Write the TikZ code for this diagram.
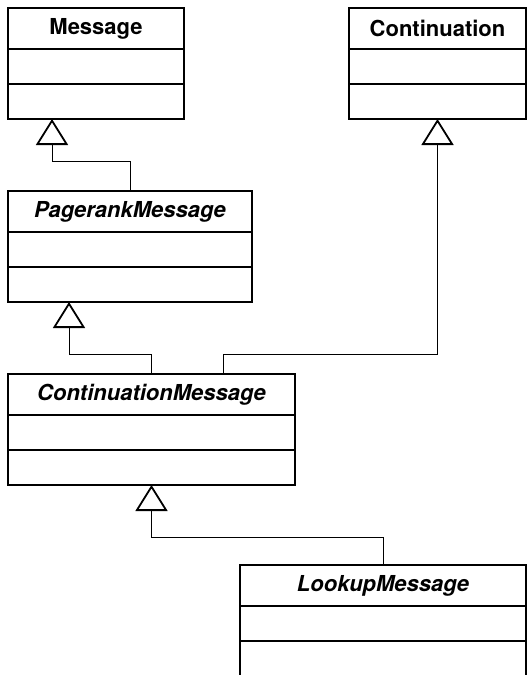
\documentclass[tikz,border=0pt]{standalone}
\usepackage{fontspec}
\setsansfont{TeX Gyre Heros}
\usetikzlibrary{arrows.meta,calc}

\begin{document}
\begin{tikzpicture}[x=1pt, y=-1pt, line join=miter,
  compart/.style={draw, line width=1.8pt, inner sep=0pt, outer sep=0pt, minimum height=35pt},
  classtitle/.style={compart, minimum height=41pt, font=\sffamily\bfseries\fontsize{22}{26}\selectfont},
  extends/.style={line width=1pt, -{Triangle[open, length=26pt, width=32pt, line width=1.8pt]}}]

\useasboundingbox (0,0) rectangle (527,675);

% --- Class boxes: name / left / top / width / shape / label ---
\foreach \name/\x/\y/\w/\shp/\txt in {
    msg/8/8/176/\upshape/Message,
    cnt/349/8/177/\upshape/Continuation,
    pm/8/191/244/\itshape/PagerankMessage,
    cm/8/374/287/\itshape/ContinuationMessage,
    lm/240/565/286/\itshape/LookupMessage}{
  \node[classtitle, minimum width=\w pt, anchor=north west] (\name) at (\x,\y) {\shp\txt};
  \node[compart, minimum width=\w pt, anchor=north] (\name-a) at (\name.south) {};   % attributes
  \node[compart, minimum width=\w pt, anchor=north] (\name-o) at (\name-a.south) {}; % operations
}

% --- Generalisations (child -> parent) ---
\draw[extends] (pm.north) -- ++(0,-30) -| ($(msg-o.south west)!0.25!(msg-o.south east)$);
\draw[extends] (cm.north) -- ++(0,-20) -| ($(pm-o.south west)!0.25!(pm-o.south east)$);
\draw[extends] ($(cm.north west)!0.75!(cm.north east)$) -- ++(0,-20) -| (cnt-o.south);
\draw[extends] (lm.north) -- ++(0,-28) -| (cm-o.south);

\end{tikzpicture}
\end{document}
